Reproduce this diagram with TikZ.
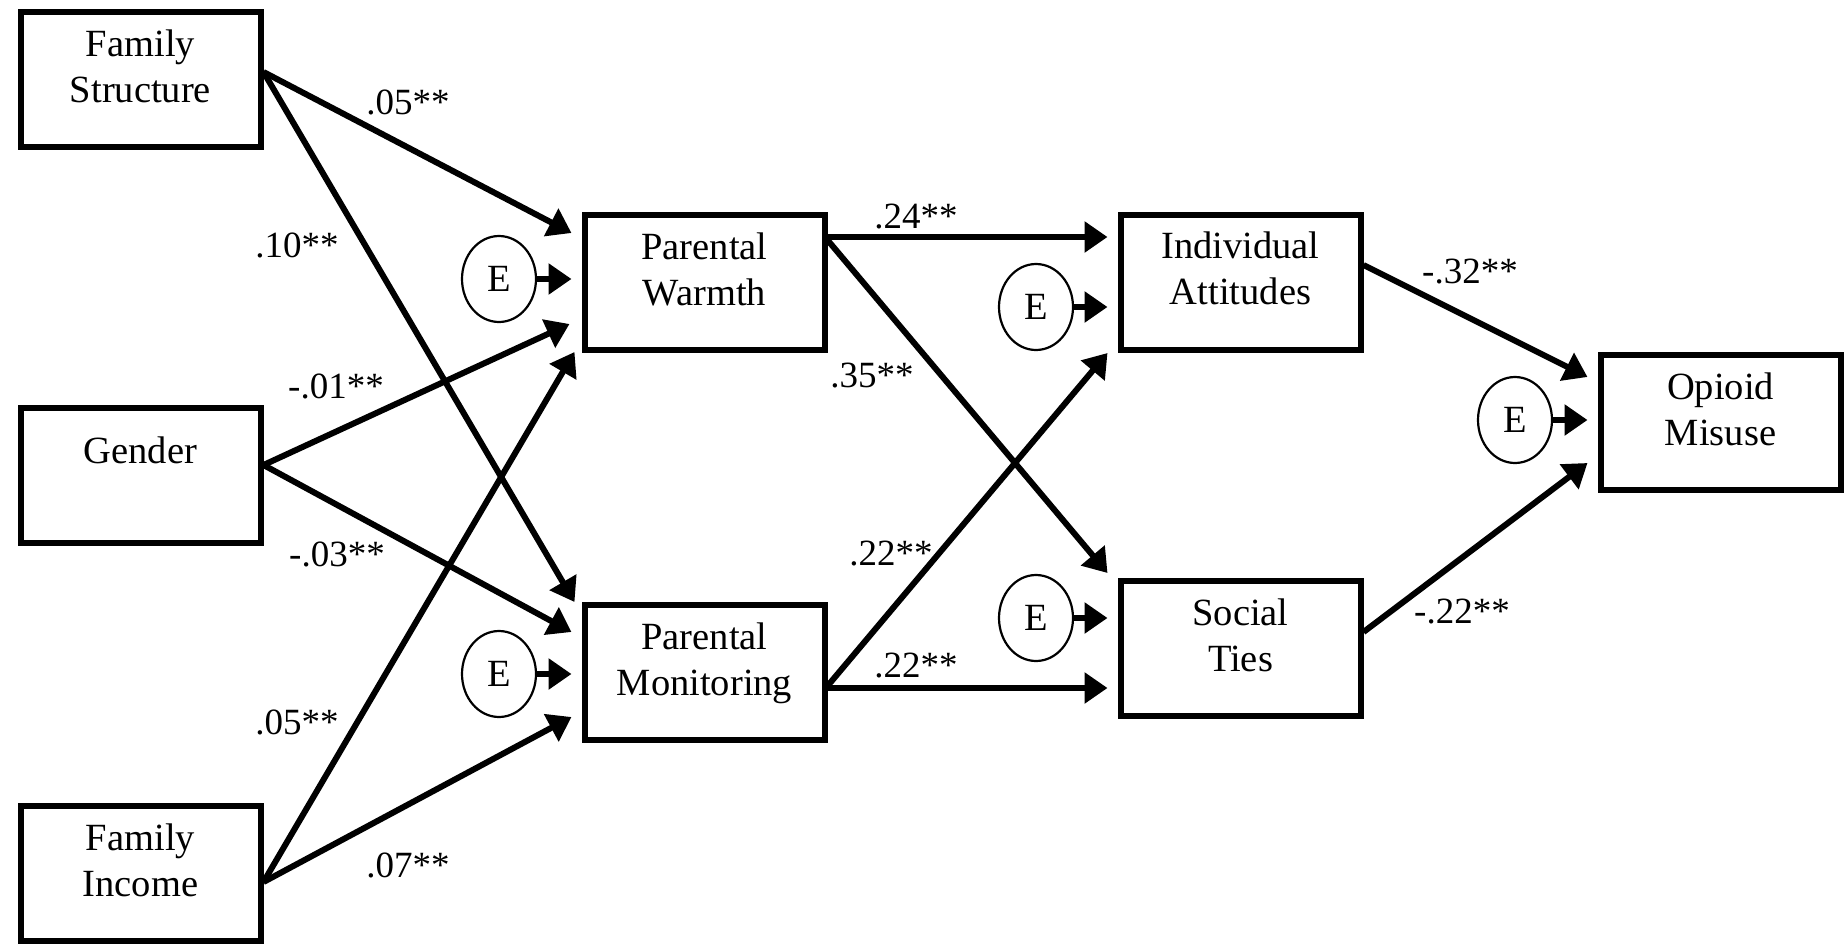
\documentclass[tikz,border=0pt]{standalone}
\usepackage{fontspec}
\setmainfont{Liberation Serif}
\usetikzlibrary{shapes.geometric,arrows.meta,positioning}

\begin{document}
\begin{tikzpicture}[x=1pt,y=-1pt]
      \tikzstyle{var} = [rectangle, draw, line width=6pt, minimum width=240pt, minimum height=135pt, inner sep=0pt]
      \tikzstyle{vtext} = [align=center, inner sep=0pt, font=\fontsize{38.5pt}{46pt}\selectfont]
      \tikzstyle{err} = [ellipse, draw, line width=2.2pt, minimum width=74pt, minimum height=86pt, inner sep=0pt, font=\fontsize{38.5pt}{46pt}\selectfont]
      \tikzstyle{coef} = [inner sep=0pt, font=\fontsize{37pt}{40pt}\selectfont]
      \tikzstyle{link} = [line width=6pt, -{Triangle[length=23pt,width=30pt]}]
      \useasboundingbox (0,0) rectangle (1845,943);
      % exogenous
      \node (fs) [var] at (140.5,79) {};
      \node (g) [var] at (140.5,475) {};
      \node (fi) [var] at (140.5,873) {};
      % parenting
      \node (pw) [var] at (704.5,282) {};
      \node (pm) [var] at (704.5,672) {};
      % mediators
      \node (ia) [var] at (1240.5,282) {};
      \node (st) [var] at (1240.5,648) {};
      % outcome
      \node (om) [var] at (1720.5,422.5) {};
      % box texts
      \node (fst) [vtext, below=21pt of fs.north] {Family\\Structure};
      \node (gt) [vtext, below=32pt of g.north] {Gender};
      \node (fit) [vtext, below=21pt of fi.north] {Family\\Income};
      \node (pwt) [vtext, below=21pt of pw.north] {Parental\\Warmth};
      \node (pmt) [vtext, below=21pt of pm.north] {Parental\\Monitoring};
      \node (iat) [vtext, below=20pt of ia.north] {Individual\\Attitudes};
      \node (stt) [vtext, below=21pt of st.north] {Social\\Ties};
      \node (omt) [vtext, below=21pt of om.north] {Opioid\\Misuse};
      % error terms
      \node (epw) [err] at (499,279) {E};
      \node (epm) [err] at (499,674) {E};
      \node (eia) [err] at (1036,307) {E};
      \node (est) [err] at (1036,618) {E};
      \node (eom) [err] at (1515,420) {E};
      \draw [link] (epw) -- ([xshift=-10pt]pw.west |- epw);
      \draw [link] (epm) -- ([xshift=-10pt]pm.west |- epm);
      \draw [link] (eia) -- ([xshift=-10pt]ia.west |- eia);
      \draw [link] (est) -- ([xshift=-10pt]st.west |- est);
      \draw [link] (eom) -- ([xshift=-10pt]om.west |- eom);
      % paths to parenting
      \draw [link] ([yshift=7pt]fs.east) -- ([xshift=-10pt,yshift=49pt]pw.west);
      \draw [link] ([yshift=7pt]fs.east) -- ([xshift=-7pt,yshift=70pt]pm.west);
      \draw [link] ([yshift=10pt]g.east) -- ([xshift=-12pt,yshift=-42pt]pw.west);
      \draw [link] ([yshift=10pt]g.east) -- ([xshift=-10pt,yshift=40pt]pm.west);
      \draw [link] ([yshift=-9pt]fi.east) -- ([xshift=-7pt,yshift=-70pt]pw.west);
      \draw [link] ([yshift=-9pt]fi.east) -- ([xshift=-10pt,yshift=-45pt]pm.west);
      % paths to mediators
      \draw [link] ([yshift=45pt]pw.east) -- ([xshift=-10pt,yshift=45pt]ia.west);
      \draw [link] ([yshift=42pt]pw.east) -- ([xshift=-10pt,yshift=75pt]st.west);
      \draw [link] ([yshift=-14pt]pm.east) -- ([xshift=-10pt,yshift=-71pt]ia.west);
      \draw [link] ([yshift=-16pt]pm.east) -- ([xshift=-10pt,yshift=-40pt]st.west);
      % paths to outcome
      \draw [link] ([yshift=17pt]ia.east) -- ([xshift=-10pt,yshift=45.5pt]om.west);
      \draw [link] ([yshift=16pt]st.east) -- ([xshift=-10pt,yshift=-40.5pt]om.west);
      % coefficients
      \node (c1) [coef] at (408,102) {.05**};
      \node (c2) [coef] at (297,245) {.10**};
      \node (c3) [coef] at (336,386) {-.01**};
      \node (c4) [coef] at (337,554) {-.03**};
      \node (c5) [coef] at (297,722) {.05**};
      \node (c6) [coef] at (408,865) {.07**};
      \node (c7) [coef] at (916,217) {.24**};
      \node (c8) [coef] at (872,376) {.35**};
      \node (c9) [coef] at (891,554) {.22**};
      \node (c10) [coef] at (916,666) {.22**};
      \node (c11) [coef] at (1470,272) {-.32**};
      \node (c12) [coef] at (1462,612) {-.22**};
\end{tikzpicture}
\end{document}
